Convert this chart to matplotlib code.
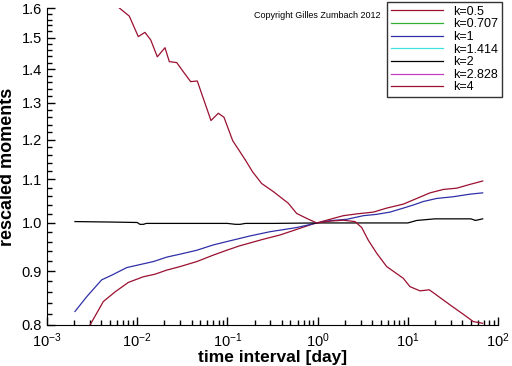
import numpy as np
import matplotlib
matplotlib.use('Agg')
import matplotlib.pyplot as plt
from matplotlib.ticker import FixedLocator, FormatStrFormatter, LogLocator, NullFormatter

plt.rcParams['font.family'] = ['Liberation Sans', 'DejaVu Sans']
plt.rcParams['mathtext.default'] = 'regular'

# log10 of the time interval [day]
lx_k05 = [-2.69, -2.523, -2.376, -2.246, -2.099, -1.932, -1.803, -1.673, -1.525, -1.340,
          -1.158, -1.008, -0.868, -0.602, -0.417, -0.232, -0.048, 0.137, 0.285, 0.434,
          0.618, 0.766, 0.950, 1.099, 1.246, 1.394, 1.542, 1.690, 1.830]
m_k05 = [0.76, 0.800, 0.842, 0.860, 0.878, 0.889, 0.894, 0.902, 0.909, 0.919,
         0.932, 0.942, 0.951, 0.965, 0.974, 0.986, 0.998, 1.008, 1.016, 1.020,
         1.024, 1.033, 1.042, 1.055, 1.068, 1.076, 1.079, 1.088, 1.096]

lx_k1 = [-2.690, -2.560, -2.394, -2.283, -2.116, -1.969, -1.821, -1.673, -1.525, -1.340,
         -1.158, -1.008, -0.749, -0.528, -0.232, -0.030, 0.137, 0.323, 0.507, 0.655,
         0.803, 0.950, 1.061, 1.172, 1.320, 1.504, 1.690, 1.830]
m_k1 = [0.824, 0.851, 0.883, 0.892, 0.907, 0.913, 0.919, 0.928, 0.934, 0.942,
        0.953, 0.960, 0.972, 0.981, 0.990, 0.999, 1.005, 1.008, 1.016, 1.019,
        1.024, 1.033, 1.040, 1.048, 1.055, 1.059, 1.065, 1.068]

lx_k2 = [-2.69, -2.3, -2.0, -1.97, -1.93, -1.9, -1.5, -1.0, -0.91, -0.86, -0.8, -0.5,
         0.0, 0.5, 1.0, 1.1, 1.3, 1.7, 1.75, 1.83]
m_k2 = [1.003, 1.002, 1.001, 0.997, 0.997, 0.999, 0.999, 0.999, 0.997, 0.997, 0.999, 0.999,
        1.000, 1.000, 1.000, 1.0055, 1.009, 1.009, 1.0055, 1.009]

lx_k4 = [-2.69, -2.30, -2.210, -2.088, -1.988, -1.914, -1.850, -1.777, -1.692, -1.644,
         -1.562, -1.489, -1.407, -1.334, -1.182, -1.101, -1.038, -0.941, -0.805, -0.720,
         -0.620, -0.491, -0.325, -0.232, -0.121, -0.010, 0.137, 0.285, 0.415, 0.489,
         0.562, 0.655, 0.766, 0.950, 1.024, 1.135, 1.238, 1.320, 1.468, 1.615, 1.726, 1.830]
m_k4 = [1.85, 1.64, 1.603, 1.572, 1.503, 1.517, 1.492, 1.438, 1.467, 1.423,
        1.420, 1.392, 1.362, 1.364, 1.251, 1.271, 1.260, 1.197, 1.149, 1.118,
        1.090, 1.071, 1.044, 1.021, 1.010, 1.000, 1.004, 1.006, 1.003, 0.990,
        0.963, 0.936, 0.909, 0.886, 0.870, 0.862, 0.864, 0.854, 0.836, 0.819, 0.806, 0.803]

labels = ['k=0.5', 'k=0.707', 'k=1', 'k=1.414', 'k=2', 'k=2.828', 'k=4']
colors = ['#9a1030', '#30b030', '#3030a8', '#40e0e0', '#000000', '#c040c0', '#9a1030']
series = {
    'k=0.5': (lx_k05, m_k05),
    'k=0.707': ([], []),
    'k=1': (lx_k1, m_k1),
    'k=1.414': ([], []),
    'k=2': (lx_k2, m_k2),
    'k=2.828': ([], []),
    'k=4': (lx_k4, m_k4),
}

fig = plt.figure(figsize=(5.12, 3.66), dpi=100)
ax = fig.add_axes([47 / 512, 1 - 325 / 366, 451 / 512, 317 / 366])

for lab, col in zip(labels, colors):
    lx, m = series[lab]
    ax.plot(10 ** np.array(lx, dtype=float), m, color=col, lw=0.9, label=lab)

ax.set_xscale('log')
ax.set_yscale('log')
ax.set_xlim(1e-3, 1e2)
ax.set_ylim(0.8, 1.6)

ax.yaxis.set_major_locator(FixedLocator([0.8, 0.9, 1.0, 1.1, 1.2, 1.3, 1.4, 1.5, 1.6]))
ax.yaxis.set_major_formatter(FormatStrFormatter('%.1f'))
ax.yaxis.set_minor_locator(FixedLocator(np.arange(0.82, 1.6, 0.02)))
ax.yaxis.set_minor_formatter(NullFormatter())
ax.xaxis.set_minor_locator(LogLocator(base=10, subs=np.arange(2, 10)))
ax.xaxis.set_minor_formatter(NullFormatter())

ax.tick_params(which='both', direction='in', labelsize=10.5, width=1)
ax.tick_params(which='major', length=6)
ax.tick_params(which='minor', length=3.5)
ax.tick_params(axis='x', which='major', pad=4.5)
ax.spines['top'].set_visible(False)
ax.spines['right'].set_visible(False)

ax.set_xlabel('time interval [day]', fontsize=12.5, fontweight='bold', labelpad=0)
ax.set_ylabel('rescaled moments', fontsize=13, fontweight='bold', labelpad=4)

leg = ax.legend(loc='upper left', bbox_to_anchor=(387 / 512, 1 - 2 / 366),
                bbox_transform=fig.transFigure, fontsize=9, frameon=True,
                fancybox=False, edgecolor='black', handlelength=4.2,
                borderpad=0.3, labelspacing=0.05, handletextpad=0.8,
                borderaxespad=0)
leg.get_frame().set_linewidth(1)

fig.text(254 / 512, 1 - 16 / 366, 'Copyright Gilles Zumbach 2012', fontsize=6.5,
         va='center', ha='left')

fig.savefig('out.png', dpi=100)
